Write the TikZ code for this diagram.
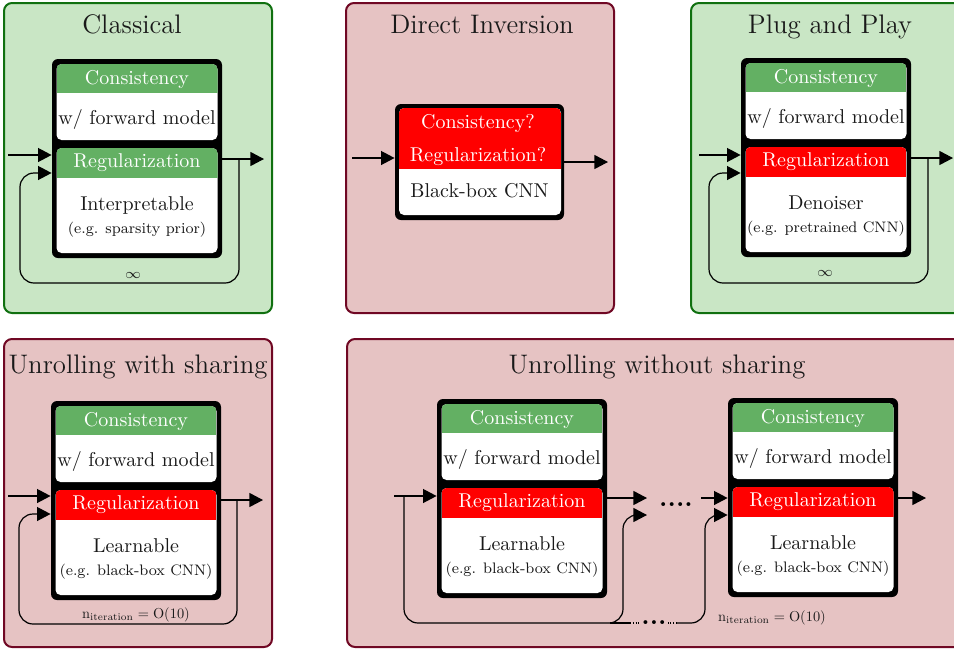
\documentclass[tikz,border=0pt]{standalone}
\usetikzlibrary{arrows.meta,fit}

\definecolor{panelgreen}{RGB}{201,230,197}
\definecolor{edgegreen}{RGB}{16,112,16}
\definecolor{panelpink}{RGB}{230,195,195}
\definecolor{edgepink}{RGB}{112,8,36}
\definecolor{hdrgreen}{RGB}{99,176,99}
\definecolor{hdrred}{RGB}{255,0,0}
\definecolor{ink}{RGB}{25,25,25}

\tikzset{
  panel/.style={rounded corners=4pt, line width=1pt},
  gpanel/.style={panel, fill=panelgreen, draw=edgegreen},
  rpanel/.style={panel, fill=panelpink, draw=edgepink},
  title/.style={anchor=base, inner sep=0, text=ink, font=\fontsize{13.4}{16}\selectfont},
  outerbox/.style={fill=black, draw=none, rounded corners=3pt, inner sep=0pt},
  hdrtext/.style={anchor=base, inner sep=0, text=white, font=\fontsize{10}{12}\selectfont},
  bodytext/.style={anchor=base, inner sep=0, text=ink, font=\fontsize{10}{12}\selectfont},
  smalltext/.style={anchor=base, inner sep=0, text=ink, font=\fontsize{7.6}{9}\selectfont},
  counttext/.style={anchor=base, inner sep=0, text=ink, font=\fontsize{10}{12}\selectfont},
  inftext/.style={inner sep=0, text=ink, font=\fontsize{6.8}{7}\selectfont},
  dots/.style={inner sep=0, text=black, font=\fontsize{13.4}{15}\selectfont\bfseries},
  wire/.style={line width=0.6pt},
  flow/.style={wire, -{Triangle[length=6.8pt,width=7pt]}},
  loopflow/.style={flow, rounded corners=7pt},
  gap/.style={wire, dash pattern=on 0.6pt off 0.8pt},
}

% Two-stage block: consistency on top, regularization below.
% #1 name, #2 left, #3 top, #4 regularization header colour, #5 and #6 lower text
\newcommand\twostage[6]{%
  \coordinate (#1-nw) at (#2,#3);
  \coordinate (#1-se) at ({#2+170},{#3+199});
  \node[outerbox, fit=(#1-nw)(#1-se)] (#1) {};
  \fill[white, rounded corners=2.5pt] ({#2+4.5},{#3+5}) rectangle ({#2+165.5},{#3+81});
  \begin{scope}
    \clip[rounded corners=2.5pt] ({#2+4.5},{#3+5}) rectangle ({#2+165.5},{#3+81});
    \fill[hdrgreen] ({#2+4.5},{#3+5}) rectangle ({#2+165.5},{#3+34});
  \end{scope}
  \fill[white, rounded corners=2.5pt] ({#2+4.5},{#3+89}) rectangle ({#2+165.5},{#3+194});
  \begin{scope}
    \clip[rounded corners=2.5pt] ({#2+4.5},{#3+89}) rectangle ({#2+165.5},{#3+194});
    \fill[#4] ({#2+4.5},{#3+89}) rectangle ({#2+165.5},{#3+119});
  \end{scope}
  \node[hdrtext] (#1-ch) at ({#2+85},{#3+25}) {Consistency};
  \node[bodytext] (#1-fm) at ({#2+85},{#3+65.5}) {w/ forward model};
  \node[hdrtext] (#1-rh) at ({#2+85},{#3+108}) {Regularization};
  \node[bodytext] (#1-la) at ({#2+85},{#3+151}) {#5};
  \node[smalltext] (#1-lb) at ({#2+85},{#3+174.5}) {#6};
}

% iteration count label
\newcommand\itercount{\scalebox{0.72}{$\mathrm{n}_{\mathrm{iteration}} = \mathrm{O}(10)$}}

\begin{document}
\begin{tikzpicture}[x=0.5pt, y=-0.5pt]
  \clip (0,0) rectangle (954,649);

  % ---------- panels ----------
  \draw[gpanel] (4,3) rectangle (272,313);
  \draw[rpanel] (346,3) rectangle (614,313);
  \draw[gpanel] (691,3) rectangle (975,313);
  \draw[rpanel] (4,339) rectangle (272,647);
  \draw[rpanel] (347,339) rectangle (975,647);

  \node[title] (t-cl) at (132,33) {Classical};
  \node[title] (t-di) at (482,33) {Direct Inversion};
  \node[title] (t-pp) at (830,33) {Plug and Play};
  \node[title] (t-us) at (138,373) {Unrolling with sharing};
  \node[title] (t-un) at (657,373) {Unrolling without sharing};

  % ---------- Classical ----------
  \twostage{A}{52}{59}{hdrgreen}{Interpretable}{(e.g. sparsity prior)}
  \coordinate (a-in) at (8,155);
  \coordinate (a-out) at (264,159);
  \coordinate (a-br) at (239,159);
  \coordinate (a-lp) at (20,173);
  \draw[flow] (a-in) -- (a-in -| A.west);
  \draw[flow] (a-out -| A.east) -- (a-out);
  \draw[loopflow] (a-br) -- (239,283) -| (a-lp) -- (a-lp -| A.west);
  \node[inftext] (a-inf) at (133,275) {$\infty$};

  % ---------- Direct Inversion ----------
  \coordinate (b-nw) at (395,104);
  \coordinate (b-se) at (564,220);
  \node[outerbox, fit=(b-nw)(b-se)] (B) {};
  \fill[white, rounded corners=2.5pt] (399,108) rectangle (561,215);
  \begin{scope}
    \clip[rounded corners=2.5pt] (399,108) rectangle (561,215);
    \fill[hdrred] (399,108) rectangle (561,169);
  \end{scope}
  \node[hdrtext] (b-c) at (478,128) {Consistency?};
  \node[hdrtext] (b-r) at (478,161) {Regularization?};
  \node[bodytext] (b-n) at (479.5,197) {Black-box CNN};
  \coordinate (b-in) at (352,158);
  \coordinate (b-out) at (608,162);
  \draw[flow] (b-in) -- (b-in -| B.west);
  \draw[flow] (b-out -| B.east) -- (b-out);

  % ---------- Plug and Play ----------
  \twostage{C}{741}{58}{hdrred}{Denoiser}{(e.g. pretrained CNN)}
  \coordinate (c-in) at (699,155);
  \coordinate (c-out) at (953,158);
  \coordinate (c-br) at (928,158);
  \coordinate (c-lp) at (709,173);
  \draw[flow] (c-in) -- (c-in -| C.west);
  \draw[flow] (c-out -| C.east) -- (c-out);
  \draw[loopflow] (c-br) -- (928,283) -| (c-lp) -- (c-lp -| C.west);
  \node[inftext] (c-inf) at (825,273) {$\infty$};

  % ---------- Unrolling with sharing ----------
  \twostage{D}{51}{401}{hdrred}{Learnable}{(e.g. black-box CNN)}
  \coordinate (d-in) at (8,496);
  \coordinate (d-out) at (263,500);
  \coordinate (d-br) at (237,500);
  \coordinate (d-lp) at (19,514);
  \draw[flow] (d-in) -- (d-in -| D.west);
  \draw[flow] (d-out -| D.east) -- (d-out);
  \draw[loopflow] (d-br) -- (237,624) -| (d-lp) -- (d-lp -| D.west);
  \node[counttext] (d-n) at (136,618) {\itercount};

  % ---------- Unrolling without sharing ----------
  \twostage{E1}{437}{399}{hdrred}{Learnable}{(e.g. black-box CNN)}
  \twostage{E2}{728}{398}{hdrred}{Learnable}{(e.g. black-box CNN)}

  \coordinate (e-in) at (394,496);
  \coordinate (e-br) at (404,496);
  \coordinate (e1-o1) at (647,498);
  \coordinate (e1-o2) at (647,515);
  \coordinate (e2-i1) at (701,498);
  \coordinate (e2-lp) at (705,515);
  \coordinate (e2-out) at (926,498);
  \coordinate (e-g1) at (630,623);
  \coordinate (e-g2) at (677,623);

  \draw[flow] (e-in) -- (e-in -| E1.west);
  \draw[loopflow] (e-br) -- (404,623) -- (623,623) -- (623,515) -- (e1-o2);
  \draw[wire] (610,623) -- (e-g1);
  \draw[gap] (e-g1) -- ++(9,0);
  \node[dots] (e-bd) at (654,623) {...};
  \draw[gap] (e-g2) -- ++(-9,0);
  \draw[loopflow] (e-g2) -- (705,623) -- (e2-lp) -- (e2-lp -| E2.west);

  \draw[flow] (e1-o1 -| E1.east) -- (e1-o1);
  \node[dots] (e-md) at (676,505) {....};
  \draw[flow] (e2-i1) -- (e2-i1 -| E2.west);
  \draw[flow] (e2-out -| E2.east) -- (e2-out);
  \node[counttext] (e-n) at (772,621) {\itercount};
\end{tikzpicture}
\end{document}
